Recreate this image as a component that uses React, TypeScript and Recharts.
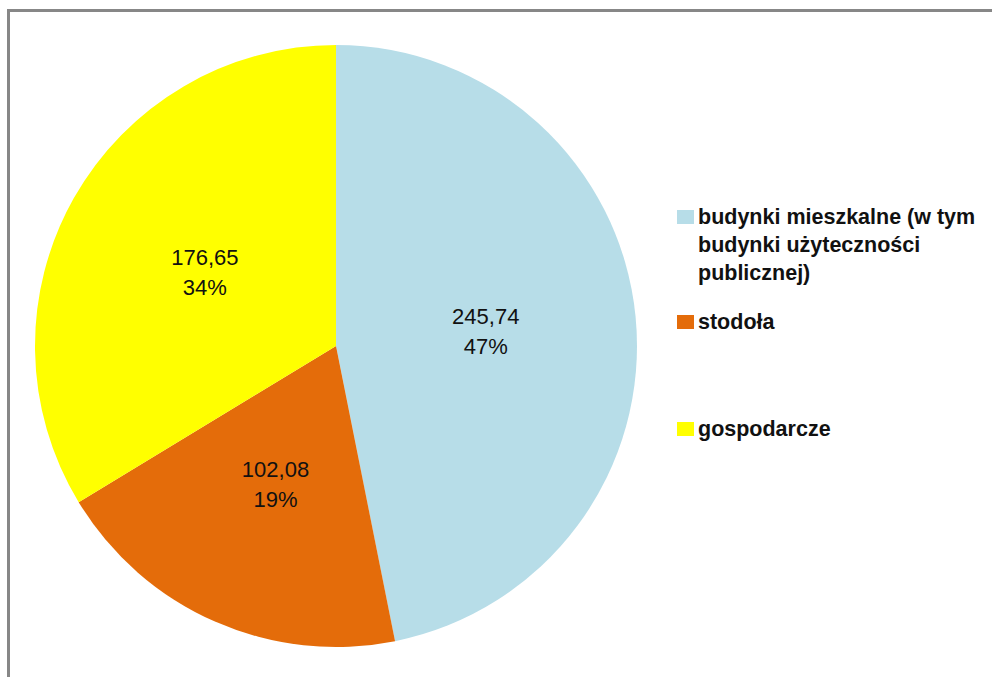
import { PieChart, Pie, Cell, Legend } from 'recharts';

const CATEGORIES = [
  'budynki mieszkalne (w tym budynki użyteczności publicznej)',
  'stodoła',
  'gospodarcze',
];
const VALUES = [245.74, 102.08, 176.65];
const COLORS = ['#B7DDE8', '#E46C0A', '#FFFF00'];

const data = CATEGORIES.map((name, i) => ({ name, value: VALUES[i] }));

const RAD = Math.PI / 180;

// value + percent in two lines, halfway out along the slice's middle
function SliceLabel(props: any) {
  const { cx, cy, midAngle, outerRadius, value, percent } = props;
  const r = outerRadius * 0.5;
  const x = cx + r * Math.cos(-midAngle * RAD);
  const y = cy + r * Math.sin(-midAngle * RAD);
  return (
    <text
      x={x}
      y={y}
      textAnchor="middle"
      fill="#111"
      fontSize={22}
      fontFamily="'Liberation Sans', Arial, sans-serif"
    >
      <tspan x={x} dy={-7}>
        {value.toFixed(2).replace('.', ',')}
      </tspan>
      <tspan x={x} dy={30}>
        {Math.round(percent * 100)}%
      </tspan>
    </text>
  );
}

// gaps after each entry, like the Excel legend spacing
const ENTRY_GAPS = [21, 79, 0];

function SideLegend(props: any) {
  // keep the data order (recharts sorts legend items by name)
  const payload = [...(props.payload || [])].sort(
    (a: any, b: any) => CATEGORIES.indexOf(a.value) - CATEGORIES.indexOf(b.value)
  );
  return (
    <div style={{ fontFamily: "'Liberation Sans', Arial, sans-serif" }}>
      {payload.map((entry: any, i: number) => (
        <div
          key={entry.value}
          style={{ display: 'flex', alignItems: 'flex-start', marginBottom: ENTRY_GAPS[i] }}
        >
          <span
            style={{
              width: 17,
              height: 14,
              marginTop: 7,
              marginRight: 4,
              flex: '0 0 auto',
              backgroundColor: entry.color,
            }}
          />
          <span
            style={{
              width: 290,
              fontSize: 21.5,
              fontWeight: 'bold',
              lineHeight: '28px',
              color: '#111',
            }}
          >
            {entry.value}
          </span>
        </div>
      ))}
    </div>
  );
}

export default function App() {
  return (
    <div style={{ position: 'fixed', inset: 0, overflow: 'hidden', background: '#fff' }}>
      <div
        style={{
          position: 'absolute',
          left: 7,
          top: 9,
          width: 1100,
          height: 800,
          borderLeft: '3px solid #878787',
          borderTop: '3px solid #878787',
        }}
      >
        <PieChart width={980} height={660} margin={{ top: 0, right: 0, bottom: 0, left: 0 }}>
          <Pie
            data={data}
            dataKey="value"
            nameKey="name"
            cx={326}
            cy={334}
            outerRadius={301}
            startAngle={90}
            endAngle={-270}
            stroke="none"
            label={SliceLabel}
            labelLine={false}
            isAnimationActive={false}
          >
            {data.map((d, i) => (
              <Cell key={d.name} fill={COLORS[i]} />
            ))}
          </Pie>
          <Legend
            layout="vertical"
            align="right"
            verticalAlign="top"
            content={SideLegend}
            wrapperStyle={{ left: 667, top: 191, right: 'auto', width: 320 }}
          />
        </PieChart>
      </div>
    </div>
  );
}
